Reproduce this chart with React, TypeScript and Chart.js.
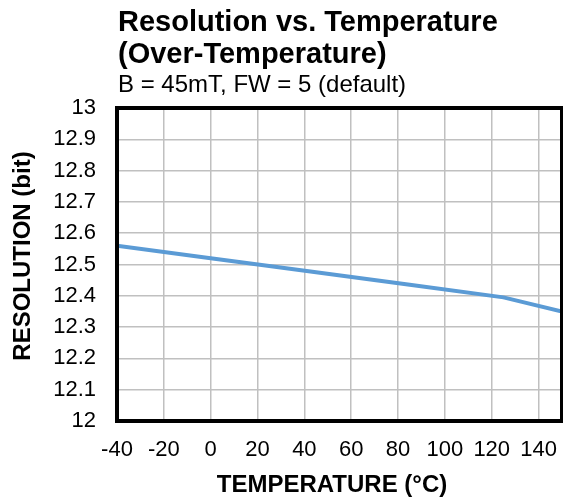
import React, { useEffect, useRef } from "react";
import { Chart, registerables } from "chart.js";

Chart.register(...registerables);

const TITLE_LINES = ["Resolution vs. Temperature", "(Over-Temperature)"];
const SUBTITLE = "B = 45mT, FW = 5 (default)";
const X_TITLE = "TEMPERATURE (°C)";
const Y_TITLE = "RESOLUTION (bit)";

const temperatures = [-40, 0, 25, 85, 125, 150];
const resolution = [12.56, 12.52, 12.495, 12.435, 12.395, 12.35];

const X_TICKS = [-40, -20, 0, 20, 40, 60, 80, 100, 120, 140];
const X_MIN = -40;
const X_MAX = 150;
const Y_MIN = 12;
const Y_MAX = 13;
const Y_STEP = 0.1;

const FONT = '"Liberation Sans", Arial, sans-serif';

const textPlugin = {
  id: "customTexts",
  afterDraw(chart: any) {
    const ctx = chart.ctx;
    ctx.save();
    ctx.fillStyle = "#000";
    ctx.textAlign = "left";
    ctx.textBaseline = "alphabetic";
    ctx.font = `bold 29px ${FONT}`;
    TITLE_LINES.forEach((t, i) => ctx.fillText(t, 118, 31 + 32 * i));
    ctx.font = `24px ${FONT}`;
    ctx.fillText(SUBTITLE, 118, 92);
    ctx.font = `bold 24px ${FONT}`;
    ctx.textAlign = "center";
    ctx.fillText(X_TITLE, 332, 492);
    ctx.translate(30, 256);
    ctx.rotate(-Math.PI / 2);
    ctx.fillText(Y_TITLE, 0, 0);
    ctx.restore();
  },
};

const boxPlugin = {
  id: "plotBox",
  afterDatasetsDraw(chart: any) {
    const { ctx, chartArea } = chart;
    ctx.save();
    ctx.strokeStyle = "#000";
    ctx.lineWidth = 4;
    ctx.strokeRect(
      chartArea.left,
      chartArea.top,
      chartArea.right - chartArea.left,
      chartArea.bottom - chartArea.top
    );
    ctx.restore();
  },
};

export default function App() {
  const ref = useRef<HTMLCanvasElement | null>(null);

  useEffect(() => {
    if (!ref.current) return;
    const chart = new Chart(ref.current, {
      type: "line",
      data: {
        datasets: [
          {
            data: temperatures.map((t, i) => ({ x: t, y: resolution[i] })),
            borderColor: "#5B9BD5",
            backgroundColor: "#5B9BD5",
            borderWidth: 4,
            pointRadius: 0,
            tension: 0,
          },
        ],
      },
      options: {
        responsive: false,
        animation: false,
        layout: { padding: { left: 0, top: 108, right: 1, bottom: 0 } },
        plugins: {
          legend: { display: false },
          title: { display: false },
          tooltip: { enabled: false },
        },
        scales: {
          x: {
            type: "linear",
            min: X_MIN,
            max: X_MAX,
            afterBuildTicks: (scale: any) => {
              scale.ticks = X_TICKS.map((v) => ({ value: v }));
            },
            afterFit: (scale: any) => {
              scale.height = 79;
              scale.paddingLeft = 0;
              scale.paddingRight = 0;
            },
            ticks: {
              color: "#000",
              font: { family: FONT, size: 22 },
              padding: 16,
              maxRotation: 0,
              autoSkip: false,
            },
            grid: { color: "#c0c0c0", lineWidth: 1.5, drawTicks: false },
            border: { display: false },
          },
          y: {
            type: "linear",
            min: Y_MIN,
            max: Y_MAX,
            afterFit: (scale: any) => {
              scale.width = 117;
            },
            ticks: {
              stepSize: Y_STEP,
              color: "#000",
              font: { family: FONT, size: 22 },
              padding: 21,
              autoSkip: false,
              callback: (v: any) => Number(v).toFixed(1).replace(/\.0$/, ""),
            },
            grid: { color: "#c0c0c0", lineWidth: 1.5, drawTicks: false },
            border: { display: false },
          },
        },
      },
      plugins: [boxPlugin, textPlugin],
    });
    return () => chart.destroy();
  }, []);

  return (
    <canvas
      ref={ref}
      width={563}
      height={500}
      style={{ position: "absolute", left: 0, top: 0 }}
    />
  );
}
